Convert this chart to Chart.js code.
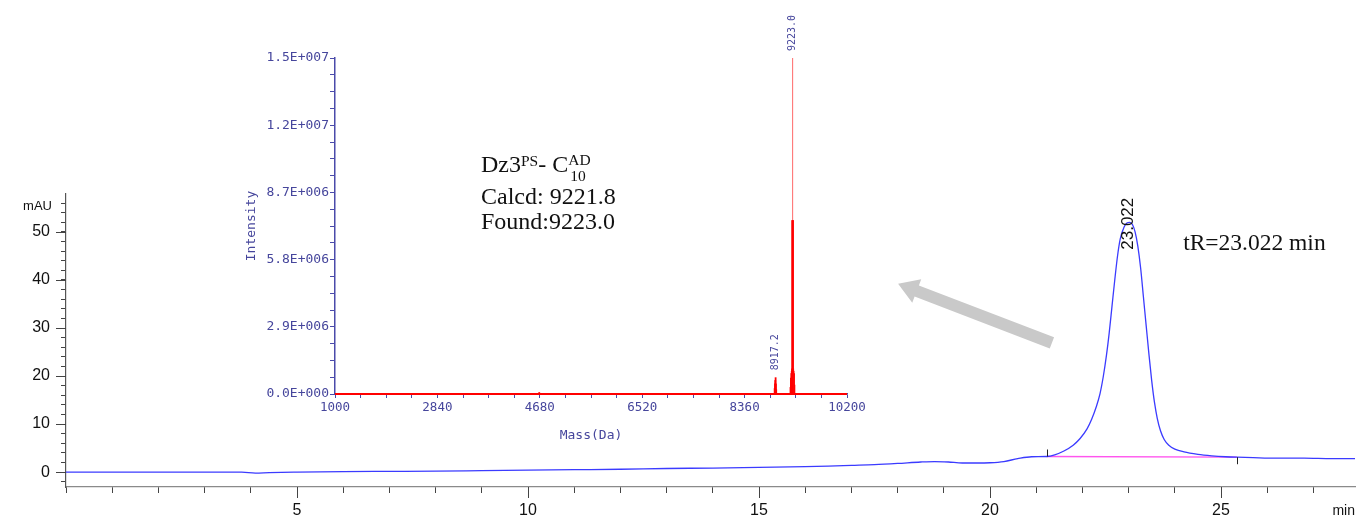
<!DOCTYPE html>
<html><head><meta charset="utf-8">
<script src="https://cdn.jsdelivr.net/npm/chart.js@4.4.1/dist/chart.umd.min.js"></script>
<style>
html,body{margin:0;padding:0;background:#fff;}
#wrap{position:relative;width:1357px;height:519px;overflow:hidden;background:#fff;}
#wrap canvas{position:absolute;left:0;top:0;}
</style></head><body>
<div id="wrap"><canvas id="main" width="1357" height="519"></canvas><canvas id="inset" width="1357" height="519"></canvas></div>
<script>
// ---------- HPLC chromatogram (main) ----------
const timeMin = [0, 1, 2, 3, 3.8, 4.1, 4.4, 5, 6, 7, 8, 9, 10, 11, 12, 13, 14, 15, 16, 16.5, 17, 17.5, 18, 18.5, 18.8, 19.1, 19.4, 19.7, 20, 20.3, 20.6, 20.9, 21.23, 21.4, 21.6, 21.8, 21.95, 22.1, 22.2, 22.3, 22.38, 22.45, 22.52, 22.58, 22.64, 22.7, 22.76, 22.82, 22.9, 22.97, 23.02, 23.08, 23.14, 23.2, 23.26, 23.32, 23.38, 23.44, 23.5, 23.56, 23.62, 23.69, 23.77, 23.87, 24.0, 24.2, 24.5, 24.8, 25.1, 25.34, 25.7, 26.2, 26.8, 27.4, 27.9];
const absMAU  = [0.0, 0.0, 0.0, 0.0, 0.0, -0.2, -0.1, 0.0, 0.1, 0.15, 0.2, 0.3, 0.4, 0.5, 0.6, 0.75, 0.85, 1.0, 1.15, 1.25, 1.4, 1.55, 1.8, 2.1, 2.2, 2.1, 1.9, 1.9, 1.95, 2.2, 2.8, 3.2, 3.25, 3.6, 4.4, 5.6, 7.0, 9.0, 11.0, 13.6, 16.3, 19.8, 24.3, 29.0, 34.5, 40.0, 45.0, 48.6, 51.0, 51.9, 52.0, 51.6, 50.0, 47.0, 42.5, 36.5, 30.5, 24.5, 19.0, 14.5, 11.2, 8.6, 6.8, 5.6, 4.8, 4.2, 3.7, 3.4, 3.2, 3.1, 3.0, 2.9, 2.9, 2.8, 2.8];
const integTime = [21.23, 25.34];
const integMAU  = [3.25, 3.1];
const peakTime  = [23.022];
const peakLabels = ['23.022'];
const mainXTickValues = [5, 10, 15, 20, 25];
const mainXTickLabels = ['5', '10', '15', '20', '25'];
const mainYTickValues = [0, 10, 20, 30, 40, 50];
const mainYTickLabels = ['0', '10', '20', '30', '40', '50'];

// ---------- Mass spectrum (inset) ----------
const specMass = [4670, 8900, 8906, 8911, 8917.2, 8922, 8928, 9185, 9192, 9200, 9207, 9213, 9219, 9221, 9223.0, 9225, 9227, 9233, 9240, 9248, 9255];
const specInt  = [0.08e6, 0.25e6, 0.45e6, 0.6e6, 0.72e6, 0.45e6, 0.2e6, 0.3e6, 0.7e6, 0.9e6, 1.0e6, 1.1e6, 7.5e6, 7.5e6, 14.5e6, 7.5e6, 7.5e6, 1.1e6, 1.0e6, 0.9e6, 0.4e6];
const specPeakMass = [9223.0, 8917.2];
const specPeakInt  = [14.5e6, 0.72e6];
const specPeakLabels = ['9223.0', '8917.2'];
const insetXTickValues = [1000, 2840, 4680, 6520, 8360, 10200];
const insetXTickLabels = ['1000', '2840', '4680', '6520', '8360', '10200'];
const insetYTickValues = [0, 2.9e6, 5.8e6, 8.7e6, 11.6e6, 14.5e6];
const insetYTickLabels = ['0.0E+000', '2.9E+006', '5.8E+006', '8.7E+006', '1.2E+007', '1.5E+007'];

const NAVY = '#46469c';
const NAVY_LINE = '#4a4aaa';

function lookup(values, labels, v) {
  const i = values.findIndex(t => Math.abs(t - v) < 1e-6 * Math.max(1, Math.abs(t)));
  return i >= 0 ? labels[i] : '';
}

const mainDeco = {
  id: 'mainDeco',
  afterDraw(chart) {
    const ctx = chart.ctx, xs = chart.scales.x, ys = chart.scales.y;
    ctx.save();
    ctx.strokeStyle = '#444'; ctx.lineWidth = 1;
    mainYTickValues.forEach(v => {
      const y = Math.round(ys.getPixelForValue(v)) + 0.5;
      ctx.beginPath(); ctx.moveTo(ys.right - 10, y); ctx.lineTo(ys.right, y); ctx.stroke();
    });
    mainXTickValues.forEach(v => {
      const x = Math.round(xs.getPixelForValue(v)) + 0.5;
      ctx.beginPath(); ctx.moveTo(x, xs.top); ctx.lineTo(x, xs.top + 11); ctx.stroke();
    });
    ctx.strokeStyle = '#222';
    let x0 = Math.round(xs.getPixelForValue(integTime[0])) + 0.5, y0 = ys.getPixelForValue(integMAU[0]);
    ctx.beginPath(); ctx.moveTo(x0, y0); ctx.lineTo(x0, y0 - 7); ctx.stroke();
    let x1 = Math.round(xs.getPixelForValue(integTime[1])) + 0.5, y1 = ys.getPixelForValue(integMAU[1]);
    ctx.beginPath(); ctx.moveTo(x1, y1); ctx.lineTo(x1, y1 + 7); ctx.stroke();
    ctx.fillStyle = '#111';
    ctx.font = '13px "Liberation Sans"';
    ctx.textAlign = 'right'; ctx.textBaseline = 'middle';
    ctx.fillText('mAU', 52, 206);
    ctx.font = '14px "Liberation Sans"';
    ctx.fillText('min', 1355, 511);
    ctx.font = '17px "Liberation Sans"';
    ctx.save();
    ctx.translate(xs.getPixelForValue(peakTime[0]) - 1, ys.getPixelForValue(46.3));
    ctx.rotate(-Math.PI / 2);
    ctx.textAlign = 'left'; ctx.textBaseline = 'middle';
    ctx.fillText(peakLabels[0], 0, 0);
    ctx.restore();
    ctx.font = '23.5px "Liberation Serif"';
    ctx.textAlign = 'left'; ctx.textBaseline = 'alphabetic';
    ctx.fillText('tR=23.022 min', xs.getPixelForValue(24.18), ys.getPixelForValue(46.3));
    const tail = {x: xs.getPixelForValue(21.34), y: ys.getPixelForValue(26.9)};
    const tip = {x: xs.getPixelForValue(18.01), y: ys.getPixelForValue(39.2)};
    const dx = tip.x - tail.x, dy = tip.y - tail.y, L = Math.hypot(dx, dy);
    const ux = dx / L, uy = dy / L, nx = -uy, ny = ux;
    const hw = 6, headW = 12.5, headL = 20;
    const nk = {x: tip.x - ux * headL, y: tip.y - uy * headL};
    ctx.fillStyle = '#c9c9c9';
    ctx.beginPath();
    ctx.moveTo(tail.x + nx * hw, tail.y + ny * hw);
    ctx.lineTo(nk.x + nx * hw, nk.y + ny * hw);
    ctx.lineTo(nk.x + nx * headW, nk.y + ny * headW);
    ctx.lineTo(tip.x, tip.y);
    ctx.lineTo(nk.x - nx * headW, nk.y - ny * headW);
    ctx.lineTo(nk.x - nx * hw, nk.y - ny * hw);
    ctx.lineTo(tail.x - nx * hw, tail.y - ny * hw);
    ctx.closePath(); ctx.fill();
    ctx.restore();
  }
};

new Chart(document.getElementById('main'), {
  type: 'scatter',
  data: {
    datasets: [
      { data: timeMin.map((t, i) => ({x: t, y: absMAU[i]})), showLine: true, borderColor: '#3b3bff', borderWidth: 1.3, pointRadius: 0, cubicInterpolationMode: 'monotone', fill: false },
      { data: integTime.map((t, i) => ({x: t, y: integMAU[i]})), showLine: true, borderColor: '#ff55ee', borderWidth: 1.3, pointRadius: 0, fill: false }
    ]
  },
  options: {
    responsive: false, animation: false, devicePixelRatio: 1,
    layout: { padding: { left: 0, top: 194, right: 2, bottom: 0 } },
    plugins: { legend: { display: false }, tooltip: { enabled: false } },
    scales: {
      x: {
        type: 'linear', min: 0, max: 27.9,
        afterFit(s) { s.height = 32; },
        ticks: { stepSize: 1, autoSkip: false, maxRotation: 0, includeBounds: false, padding: 8, color: '#111', font: { family: 'Liberation Sans', size: 16 },
                 callback: v => lookup(mainXTickValues, mainXTickLabels, v) },
        grid: { drawOnChartArea: false, drawTicks: true, tickLength: 6, color: '#444' },
        border: { display: true, color: '#8a8a8a', width: 1.2 }
      },
      y: {
        min: -3.1, max: 57.9,
        afterFit(s) { s.width = 66; },
        ticks: { stepSize: 2, autoSkip: false, includeBounds: false, padding: 11, color: '#111', font: { family: 'Liberation Sans', size: 16 },
                 callback: v => lookup(mainYTickValues, mainYTickLabels, v) },
        grid: { drawOnChartArea: false, drawTicks: true, tickLength: 5, color: '#444' },
        border: { display: true, color: '#555', width: 1.2 }
      }
    }
  },
  plugins: [mainDeco]
});

const insetDeco = {
  id: 'insetDeco',
  afterDatasetsDraw(chart) {
    const ctx = chart.ctx, xs = chart.scales.x, ys = chart.scales.y;
    ctx.save();
    ctx.fillStyle = NAVY;
    ctx.font = '10px "DejaVu Sans Mono"';
    specPeakMass.forEach((m, i) => {
      ctx.save();
      ctx.translate(xs.getPixelForValue(m), ys.getPixelForValue(specPeakInt[i]) - 7);
      ctx.rotate(-Math.PI / 2);
      ctx.textAlign = 'left'; ctx.textBaseline = 'middle';
      ctx.fillText(specPeakLabels[i], 0, 0);
      ctx.restore();
    });
    ctx.fillStyle = '#111';
    ctx.textAlign = 'left'; ctx.textBaseline = 'alphabetic';
    const big = '24px "Liberation Serif"', small = '15.5px "Liberation Serif"';
    let x = 481, y = 172;
    ctx.font = big; ctx.fillText('Dz3', x, y); x += ctx.measureText('Dz3').width;
    ctx.font = small; ctx.fillText('PS', x, y - 6); x += ctx.measureText('PS').width;
    ctx.font = big; ctx.fillText('- C', x, y); x += ctx.measureText('- C').width;
    ctx.font = small; ctx.fillText('AD', x, y - 7); ctx.fillText('10', x + 2, y + 9);
    ctx.font = big;
    ctx.fillText('Calcd: 9221.8', 481, 204);
    ctx.fillText('Found:9223.0', 481, 229);
    ctx.restore();
  }
};

const stickSets = specMass.map((m, i) => ({
  data: [{x: m, y: 0}, {x: m, y: specInt[i]}],
  showLine: true, pointRadius: 0, fill: false, clip: false,
  borderColor: specInt[i] > 1e7 ? '#ff6a6a' : '#ff0000',
  borderWidth: specInt[i] > 1e7 ? 1 : 1.8
}));

new Chart(document.getElementById('inset'), {
  type: 'scatter',
  data: {
    datasets: [
      { data: [{x: insetXTickValues[0], y: 0}, {x: insetXTickValues[insetXTickValues.length - 1], y: 0}], showLine: true, pointRadius: 0, borderColor: '#ff0000', borderWidth: 2, clip: false }
    ].concat(stickSets)
  },
  options: {
    responsive: false, animation: false, devicePixelRatio: 1,
    layout: { padding: { left: 230, top: 58, right: 510, bottom: 59 } },
    plugins: { legend: { display: false }, tooltip: { enabled: false } },
    scales: {
      x: {
        type: 'linear', min: 1000, max: 10200,
        afterFit(s) { s.height = 66; },
        ticks: { stepSize: 460, autoSkip: false, maxRotation: 0, includeBounds: false, padding: 2, color: NAVY, font: { family: 'DejaVu Sans Mono', size: 12.5 },
                 callback: v => lookup(insetXTickValues, insetXTickLabels, v) },
        grid: { drawOnChartArea: false, drawTicks: true, tickLength: 4, color: NAVY_LINE },
        border: { display: true, color: NAVY_LINE, width: 1.5 },
        title: { display: true, text: 'Mass(Da)', color: NAVY, font: { family: 'DejaVu Sans Mono', size: 13 }, padding: { top: 0, bottom: 17 } }
      },
      y: {
        min: 0, max: 14.5e6,
        afterFit(s) { s.width = 105; },
        ticks: { stepSize: 725000, autoSkip: false, includeBounds: false, padding: 1, color: NAVY, font: { family: 'DejaVu Sans Mono', size: 13 },
                 callback: v => lookup(insetYTickValues, insetYTickLabels, v) },
        grid: { drawOnChartArea: false, drawTicks: true, tickLength: 5, color: NAVY_LINE },
        border: { display: true, color: NAVY_LINE, width: 1.5 },
        title: { display: true, text: 'Intensity', color: NAVY, font: { family: 'DejaVu Sans Mono', size: 13 }, padding: { top: 14, bottom: 0 } }
      }
    }
  },
  plugins: [insetDeco]
});
</script>
</body></html>
